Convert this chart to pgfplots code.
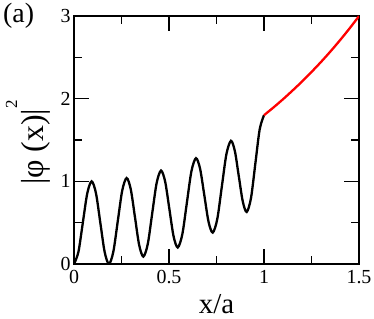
\documentclass[border=0pt]{standalone}
\usepackage{pgfplots}
\pgfplotsset{compat=1.18}
\usepackage{fontspec}
\setmainfont{Liberation Serif}
\begin{document}
\begin{tikzpicture}
\begin{axis}[
  scale only axis,
  width=285bp, height=248bp,
  xmin=0, xmax=1.5, ymin=0, ymax=3,
  xtick={0,0.5,1,1.5}, ytick={0,1,2,3},
  minor x tick num=1, minor y tick num=1,
  axis line style={line width=1.2bp},
  xtick style={line width=1.2bp, black},
  ytick style={line width=1.2bp, black},
  major tick length=0.53cm,
  minor tick length=0.265cm,
  ticklabel style={font=\fontsize{20}{20}\selectfont},
  xticklabel style={yshift=-3bp},
  /pgf/number format/assume math mode=true,
]
\addplot[black, line width=2.3bp, smooth] coordinates {
(0,0) (0.02325,0.146) (0.0465,0.5) (0.06975,0.854) (0.093,1.0)
(0.1158,0.854) (0.1385,0.5) (0.1613,0.146) (0.184,0.0)
(0.2073,0.152) (0.2305,0.52) (0.2538,0.888) (0.277,1.04)
(0.299,0.901) (0.321,0.565) (0.343,0.229) (0.365,0.09)
(0.3883,0.242) (0.4115,0.61) (0.4348,0.978) (0.458,1.13)
(0.480,0.994) (0.502,0.665) (0.524,0.336) (0.546,0.20)
(0.570,0.358) (0.594,0.74) (0.618,1.122) (0.642,1.28)
(0.664,1.148) (0.686,0.83) (0.708,0.512) (0.730,0.38)
(0.754,0.543) (0.778,0.935) (0.802,1.327) (0.826,1.49)
(0.8468,1.364) (0.8675,1.06) (0.8883,0.756) (0.909,0.63)
(0.9318,0.801) (0.9545,1.215) (0.9773,1.629) (1.0,1.80)
};
\addplot[red, line width=2.3bp, smooth] coordinates {
(1.0,1.8) (1.05,1.894) (1.10,1.993) (1.15,2.098) (1.20,2.207)
(1.25,2.323) (1.30,2.444) (1.35,2.572) (1.40,2.707) (1.45,2.849) (1.50,2.998)
};
\end{axis}
\foreach \tk in {95,190} {
  \draw[line width=1.2bp] (\tk bp,0) -- ++(0,15bp);
  \draw[line width=1.2bp] (\tk bp,248bp) -- ++(0,-15bp);
}
\foreach \tk in {47.5,142.5,237.5} {
  \draw[line width=1.2bp] (\tk bp,0) -- ++(0,7.5bp);
  \draw[line width=1.2bp] (\tk bp,248bp) -- ++(0,-7.5bp);
}
\foreach \tk in {82.667,165.333} {
  \draw[line width=1.2bp] (0,\tk bp) -- ++(15bp,0);
  \draw[line width=1.2bp] (285bp,\tk bp) -- ++(-15bp,0);
}
\foreach \tk in {41.333,124,206.667} {
  \draw[line width=1.2bp] (0,\tk bp) -- ++(7.5bp,0);
  \draw[line width=1.2bp] (285bp,\tk bp) -- ++(-7.5bp,0);
}
\node[anchor=base, font=\fontsize{29}{29}\selectfont, inner sep=0pt]
  at (142.5bp,-49bp) {x/a};
\node[anchor=north west, font=\fontsize{28}{28}\selectfont, inner sep=0pt]
  at (-71bp,261bp) {(a)};
\node[rotate=90, anchor=base, font=\fontsize{32}{32}\selectfont, inner sep=0pt]
  at (-31bp,121.5bp) {|φ (x)|\raisebox{26bp}{\fontsize{17}{17}\selectfont 2}};
\pgfresetboundingbox
\useasboundingbox (-74bp,-55bp) rectangle (300bp,264bp);
\end{tikzpicture}
\end{document}
